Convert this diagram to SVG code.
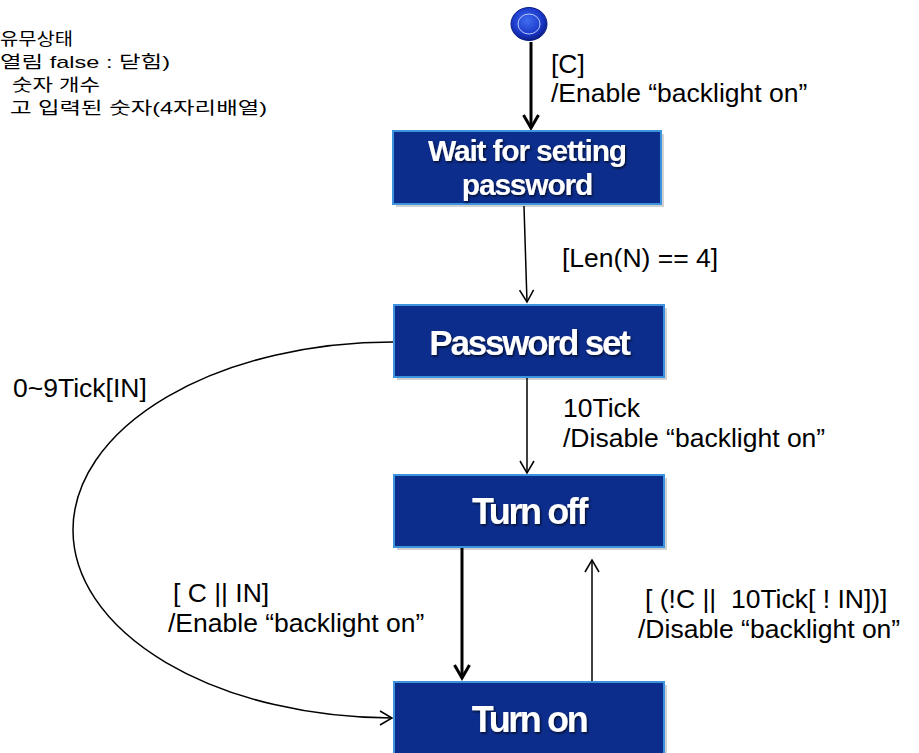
<svg xmlns="http://www.w3.org/2000/svg" width="919" height="753" viewBox="0 0 919 753">
<style>
.box{fill:#0c2d8c;stroke:#3d93dc;stroke-width:2}
.shadow{fill:#000;opacity:0.18}
.st{font-family:"Liberation Sans",Arial,sans-serif;font-weight:bold;fill:#fff;text-anchor:middle;filter:url(#ts)}
.lbl{font-family:"Liberation Sans",Arial,sans-serif;font-size:26.5px;fill:#000}
.kr{font-family:"Liberation Sans","Noto Sans CJK KR",sans-serif;font-size:17px;fill:#000}
.thin{fill:none;stroke:#000;stroke-width:1.5}
.thick{fill:none;stroke:#000;stroke-width:3}
</style>
<defs>
<filter id="ts" x="-10%" y="-30%" width="120%" height="160%">
<feDropShadow dx="1.2" dy="1.5" stdDeviation="1" flood-color="#000" flood-opacity="0.7"/>
</filter>
<radialGradient id="ig" cx="45%" cy="40%" r="60%">
<stop offset="0" stop-color="#3f6cf0"/>
<stop offset="0.7" stop-color="#1a38c8"/>
<stop offset="1" stop-color="#0c1f8a"/>
</radialGradient>
<marker id="av" markerUnits="userSpaceOnUse" markerWidth="16" markerHeight="16" viewBox="0 0 16 16" refX="13" refY="8" orient="auto">
<path d="M1,1 L13,8 L1,15" fill="none" stroke="#000" stroke-width="1.5"/>
</marker>
<marker id="avt" markerUnits="userSpaceOnUse" markerWidth="18" markerHeight="18" viewBox="0 0 18 18" refX="15" refY="9" orient="auto">
<path d="M2,1.5 L15,9 L2,16.5" fill="none" stroke="#000" stroke-width="3"/>
</marker>
</defs>
<rect width="919" height="753" fill="#fff"/>

<g id="notes">
<text class="kr" x="0" y="45" textLength="73" lengthAdjust="spacingAndGlyphs">유무상태</text>
<text class="kr" x="0" y="68" textLength="170" lengthAdjust="spacingAndGlyphs">열림 false : 닫힘)</text>
<text class="kr" x="12" y="91" textLength="88" lengthAdjust="spacingAndGlyphs">숫자 개수</text>
<text class="kr" x="10" y="114" textLength="257" lengthAdjust="spacingAndGlyphs">고 입력된 숫자(4자리배열)</text>
</g>

<g id="connectors">
<line class="thick" x1="531" y1="42" x2="531" y2="128" marker-end="url(#avt)"/>
<line class="thin" x1="524" y1="206" x2="527" y2="302" marker-end="url(#av)"/>
<line class="thin" x1="527" y1="378" x2="527" y2="473" marker-end="url(#av)"/>
<line class="thick" x1="462" y1="548" x2="462" y2="678" marker-end="url(#avt)"/>
<line class="thin" x1="592" y1="682" x2="592" y2="560" marker-end="url(#av)"/>
<path class="thin" d="M394,342 A320 188 0 0 0 392,718" marker-end="url(#av)"/>
<text class="lbl" x="551" y="73">[C]</text>
<text class="lbl" x="551" y="102">/Enable “backlight on”</text>
<text class="lbl" x="562" y="267">[Len(N) == 4]</text>
<text class="lbl" x="563" y="417">10Tick</text>
<text class="lbl" x="563" y="447">/Disable “backlight on”</text>
<text class="lbl" x="13" y="397">0~9Tick[IN]</text>
<text class="lbl" x="173" y="602">[ C || IN]</text>
<text class="lbl" x="168" y="632">/Enable “backlight on”</text>
<text class="lbl" x="645" y="608" xml:space="preserve">[ (!C ||  10Tick[ ! IN])]</text>
<text class="lbl" x="638" y="638">/Disable “backlight on”</text>
</g>

<g id="start">
<ellipse cx="529" cy="24" rx="18" ry="16.5" fill="url(#ig)" stroke="#0a1a80" stroke-width="1"/>
<ellipse cx="529" cy="24" rx="11" ry="10" fill="none" stroke="#b8c8ff" stroke-width="1"/>
</g>

<g id="wait">
<rect class="shadow" x="396" y="134" width="268" height="73"/>
<rect class="box" x="393" y="131" width="268" height="73"/>
<text class="st" x="527" y="161" font-size="30" letter-spacing="-1.2">Wait for setting</text>
<text class="st" x="527" y="195" font-size="30" letter-spacing="-1.2">password</text>
</g>

<g id="pwset">
<rect class="shadow" x="397" y="308" width="270" height="72"/>
<rect class="box" x="394" y="305" width="270" height="72"/>
<text class="st" x="529" y="355" font-size="35" letter-spacing="-2.2">Password set</text>
</g>

<g id="turnoff">
<rect class="shadow" x="397" y="478" width="270" height="72"/>
<rect class="box" x="394" y="475" width="270" height="72"/>
<text class="st" x="529" y="524" font-size="36" letter-spacing="-2.4">Turn off</text>
</g>

<g id="turnon">
<rect class="shadow" x="397" y="685" width="270" height="72"/>
<rect class="box" x="394" y="682" width="270" height="72"/>
<text class="st" x="529" y="732" font-size="36" letter-spacing="-2.4">Turn on</text>
</g>
</svg>
